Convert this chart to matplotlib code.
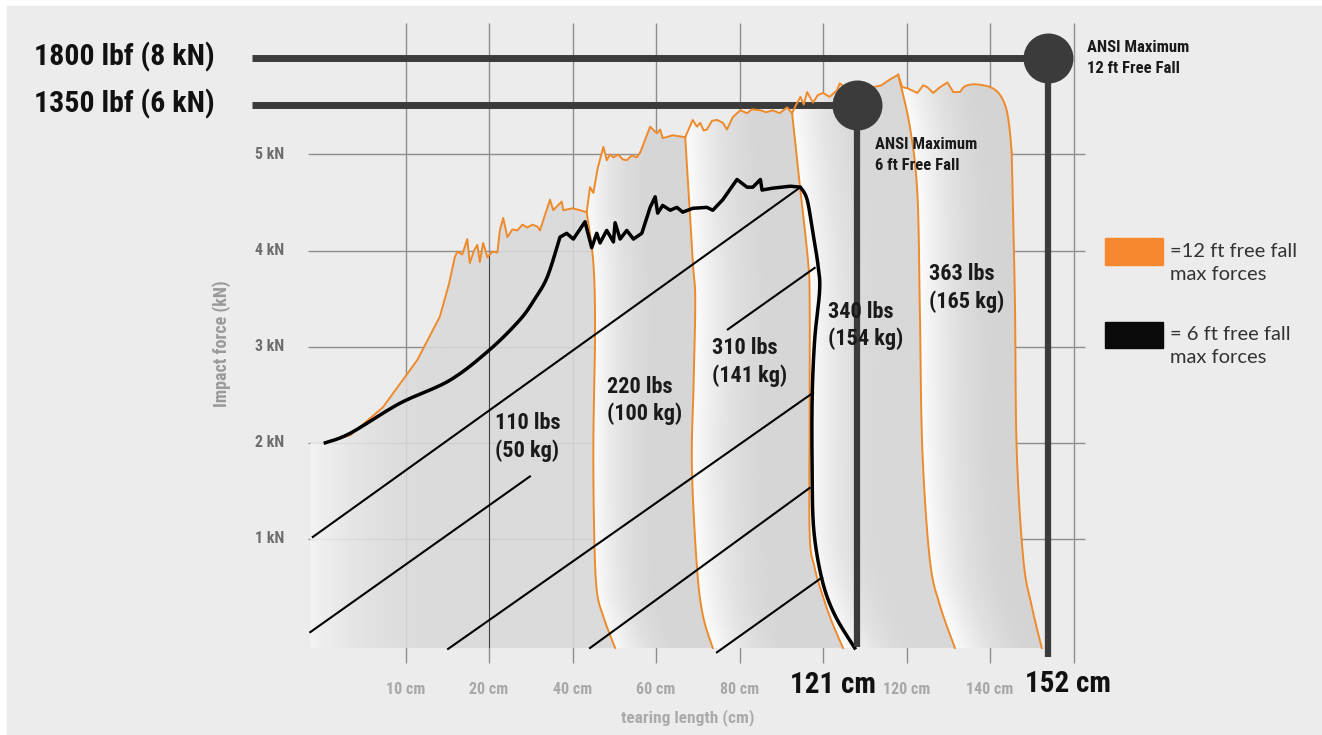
import numpy as np
import matplotlib

matplotlib.use("Agg")
import matplotlib.pyplot as plt
from matplotlib.colors import to_rgb
from matplotlib.patches import Polygon, Rectangle

# x = position on the tearing-length grid (1 = 10 cm ... 8 = 140 cm), y = impact force (kN)
GRID_X = [1, 2, 3, 4, 5, 6, 7, 8, 9]
TICK_X = [1, 2, 3, 4, 5, 7, 8]
TICK_X_LABELS = ["10 cm", "20 cm", "40 cm", "60 cm", "80 cm", "120 cm", "140 cm"]
GRID_Y = [1, 2, 3, 4, 5]
TICK_Y_LABELS = ["1 kN", "2 kN", "3 kN", "4 kN", "5 kN"]

# 12 ft free fall (orange): top of each load curve, then the drop at its end
top_110 = [(0.04, 2.00), (0.34, 2.08), (0.73, 2.37), (1.14, 2.86), (1.41, 3.31), (1.52, 3.65),
           (1.59, 3.93), (1.62, 3.99), (1.68, 3.96), (1.74, 4.12), (1.77, 3.87), (1.82, 4.00),
           (1.86, 4.06), (1.89, 3.88), (1.93, 4.08), (1.98, 3.93), (2.04, 3.99), (2.10, 3.98),
           (2.13, 4.21), (2.17, 4.34), (2.22, 4.14), (2.28, 4.22), (2.34, 4.21), (2.40, 4.27),
           (2.46, 4.24), (2.52, 4.27), (2.58, 4.25), (2.61, 4.21), (2.73, 4.53), (2.77, 4.42),
           (2.87, 4.51), (2.89, 4.42), (3.00, 4.44), (3.09, 4.42), (3.17, 4.40)]
drop_110 = [(3.17, 4.40), (3.25, 3.87), (3.27, 3.17), (3.25, 2.00), (3.26, 1.06), (3.29, 0.47),
            (3.37, 0.19), (3.51, -0.135)]
top_220 = [(3.17, 4.40), (3.21, 4.66), (3.25, 4.60), (3.30, 4.85), (3.37, 5.08), (3.41, 4.94),
           (3.45, 5.00), (3.49, 4.97), (3.55, 5.00), (3.60, 4.95), (3.65, 4.94), (3.71, 4.99),
           (3.77, 4.97), (3.81, 5.02), (3.93, 5.29), (4.01, 5.22), (4.05, 5.26), (4.08, 5.17),
           (4.20, 5.20), (4.35, 5.18)]
drop_220 = [(4.35, 5.18), (4.44, 3.90), (4.47, 3.49), (4.45, 2.60), (4.43, 1.75), (4.49, 0.71),
            (4.56, 0.21), (4.68, -0.135)]
top_310 = [(4.35, 5.18), (4.37, 5.22), (4.44, 5.36), (4.49, 5.29), (4.53, 5.33), (4.57, 5.25),
           (4.61, 5.26), (4.67, 5.35), (4.73, 5.36), (4.80, 5.33), (4.85, 5.26), (4.92, 5.39),
           (5.01, 5.46), (5.09, 5.43), (5.15, 5.47), (5.25, 5.46), (5.32, 5.44), (5.40, 5.46),
           (5.48, 5.43), (5.57, 5.49), (5.63, 5.43)]
drop_310 = [(5.63, 5.43), (5.72, 4.70), (5.82, 3.90), (5.84, 3.49), (5.84, 2.30), (5.84, 1.06),
            (5.90, 0.70), (6.00, 0.40), (6.10, 0.15), (6.24, -0.135)]
top_340 = [(5.63, 5.43), (5.68, 5.52), (5.73, 5.60), (5.77, 5.52), (5.81, 5.65), (5.88, 5.54),
           (5.94, 5.62), (6.00, 5.64), (6.08, 5.60), (6.17, 5.67), (6.20, 5.74), (6.30, 5.68),
           (6.41, 5.70), (6.50, 5.66), (6.60, 5.70), (6.70, 5.72), (6.80, 5.78), (6.90, 5.83)]
drop_340 = [(6.90, 5.83), (7.04, 5.29), (7.13, 4.60), (7.16, 3.38), (7.19, 1.93), (7.28, 0.78),
            (7.40, 0.31), (7.58, -0.135)]
top_363 = [(6.90, 5.83), (6.95, 5.70), (7.01, 5.69), (7.13, 5.64), (7.20, 5.72), (7.25, 5.70),
           (7.32, 5.64), (7.40, 5.70), (7.49, 5.75), (7.56, 5.65), (7.64, 5.65), (7.70, 5.71),
           (7.80, 5.73), (7.92, 5.72), (8.03, 5.69), (8.12, 5.62), (8.19, 5.49), (8.23, 5.30),
           (8.26, 5.02)]
drop_363 = [(8.26, 5.02), (8.28, 4.25), (8.30, 3.38), (8.32, 1.92), (8.40, 0.78), (8.50, 0.30),
            (8.62, -0.135)]
start_edge = [(-0.14, 2.00), (-0.14, -0.135)]

# 6 ft free fall (black): smooth rise, jagged plateau, smooth right edge
rise_6ft = [(0.04, 2.00), (0.34, 2.10), (0.93, 2.41), (1.53, 2.65), (2.01, 2.97), (2.37, 3.28),
            (2.55, 3.50), (2.70, 3.73), (2.85, 4.14)]
plateau_6ft = [(2.85, 4.14), (2.93, 4.18), (3.01, 4.12), (3.15, 4.30), (3.23, 4.03), (3.29, 4.18),
               (3.33, 4.08), (3.41, 4.21), (3.49, 4.09), (3.51, 4.29), (3.57, 4.12), (3.65, 4.21),
               (3.73, 4.12), (3.83, 4.18), (3.93, 4.45), (3.99, 4.56), (4.02, 4.39), (4.08, 4.47),
               (4.17, 4.42), (4.25, 4.45), (4.32, 4.40), (4.44, 4.44), (4.61, 4.45), (4.68, 4.42),
               (4.80, 4.53), (4.97, 4.74), (5.09, 4.66), (5.16, 4.66), (5.25, 4.74), (5.27, 4.63),
               (5.40, 4.65), (5.61, 4.67), (5.73, 4.66)]
edge_6ft = [(5.73, 4.66), (5.81, 4.53), (5.88, 4.18), (5.94, 3.85), (5.96, 3.59), (5.90, 3.07),
            (5.87, 2.45), (5.87, 1.72), (5.89, 1.09), (5.99, 0.57), (6.14, 0.21), (6.38, -0.135)]

# diagonal strap lines
straps = [((-0.11, 1.02), (5.73, 4.66)), ((-0.14, 0.03), (2.49, 1.65)), ((4.86, 3.18), (5.90, 3.82)),
          ((1.51, -0.145), (5.88, 2.52)), ((3.21, -0.135), (5.84, 1.53)), ((4.73, -0.18), (5.99, 0.60))]

MASS_LABELS = ["110 lbs\n(50 kg)", "220 lbs\n(100 kg)", "310 lbs\n(141 kg)", "340 lbs\n(154 kg)", "363 lbs\n(165 kg)"]
MASS_LABEL_X = [2.07, 3.41, 4.67, 6.06, 7.27]
MASS_LABEL_Y = [2.06, 2.44, 2.84, 3.22, 3.61]

REF_LABELS = ["1800 lbf (8 kN)", "1350 lbf (6 kN)"]
REF_FORCE = [6.00, 5.51]
REF_LENGTH = [8.70, 6.41]
REF_LENGTH_LABELS = ["152 cm", "121 cm"]
ANSI_LABELS = ["ANSI Maximum\n12 ft Free Fall", "ANSI Maximum\n6 ft Free Fall"]

ORANGE = "#ef8a2b"
DARK = "#3b3b3b"
NARROW = dict(family=["Liberation Sans Narrow", "Roboto Condensed", "DejaVu Sans"],
              fontstretch="condensed", fontweight="bold")
LEGEND_FONT = ["Lato", "DejaVu Sans"]


def smooth(points, n=12):
    # Catmull-Rom densification so hand-read curves don't look like polylines
    p = np.array(points, dtype=float)
    p = np.vstack([p[0], p, p[-1]])
    out = []
    for i in range(1, len(p) - 2):
        p0, p1, p2, p3 = p[i - 1], p[i], p[i + 1], p[i + 2]
        for t in np.linspace(0, 1, n, endpoint=False):
            out.append(0.5 * ((2 * p1) + (-p0 + p2) * t + (2 * p0 - 5 * p1 + 4 * p2 - p3) * t ** 2
                              + (-p0 + 3 * p1 - 3 * p2 + p3) * t ** 3))
    out.append(p[-2])
    return np.array(out)


def shade(ax, left, top, right, light, dark, fade, alpha=1.0):
    left = np.asarray(left)
    verts = np.vstack([left[::-1], np.asarray(top), np.asarray(right)])
    patch = Polygon(verts, closed=True, facecolor="none", edgecolor="none")
    ax.add_patch(patch)
    u0, k0 = verts.min(axis=0)
    u1, k1 = verts.max(axis=0)
    uu = np.linspace(u0, u1, 500)
    kk = np.linspace(k0, k1, 300)
    order = np.argsort(left[:, 1])
    xl = np.interp(kk, left[order, 1], left[order, 0])
    t = np.clip((uu[None, :] - xl[:, None]) / fade, 0, 1)
    t = 1 - (1 - t) ** 2
    c0 = np.array(to_rgb(light))
    c1 = np.array(to_rgb(dark))
    rgb = c0 + (c1 - c0) * t[..., None]
    rgba = np.dstack([rgb, np.full(t.shape, alpha)])
    im = ax.imshow(rgba, extent=(u0, u1, k0, k1), origin="lower", aspect="auto",
                   interpolation="bilinear", zorder=2)
    im.set_clip_path(patch)
    return patch


drops = [smooth(d) for d in [drop_110, drop_220, drop_310, drop_340, drop_363]]
start = np.array(start_edge)
top_363_line = np.vstack([np.array(top_363[:11]), smooth(top_363[10:])])

fig = plt.figure(figsize=(13.22, 7.35), dpi=100, facecolor="white")
ax = fig.add_axes([0, 0, 1, 1])
ax.set_facecolor("none")
ax.axis("off")
ax.add_patch(Rectangle((7 / 1322, 0), 1, 729 / 735, transform=ax.transAxes,
                       color="#ececec", zorder=0))

# grid
ax.vlines(GRID_X, -0.29, 6.37, color="#8e8e8e", lw=1.0, zorder=1)
ax.hlines(GRID_Y, -0.17, 9.14, color="#8e8e8e", lw=1.0, zorder=1)

# shaded load regions
p110 = shade(ax, start, top_110, drops[0], "#f4f4f4", "#d9d9d9", 1.6, alpha=0.88)
shade(ax, drops[0], top_220, drops[1], "#fbfbfb", "#d6d6d6", 0.8)
shade(ax, drops[1], top_310, drops[2], "#fdfdfd", "#d6d6d6", 1.0)
shade(ax, drops[2], top_340, drops[3], "#fdfdfd", "#d8d8d8", 0.9)
shade(ax, drops[3], top_363_line, drops[4], "#fdfdfd", "#d4d4d4", 1.0)

dark_grid = ax.vlines([2], -0.2, 5, color="#444444", lw=0.8, zorder=2.5)
dark_grid.set_clip_path(p110)

# reference lines (ANSI maxima)
for force, length in zip(REF_FORCE, REF_LENGTH):
    ax.plot([-0.84, length], [force, force], color=DARK, lw=5, solid_capstyle="butt", zorder=2.8)

# orange 12 ft curves
tops = [np.array(top_110), np.array(top_220), np.array(top_310), np.array(top_340), top_363_line]
for seg in tops + drops:
    ax.plot(seg[:, 0], seg[:, 1], color=ORANGE, lw=1.4, zorder=3, solid_joinstyle="round")

for (u0, k0), (u1, k1) in straps:
    ax.plot([u0, u1], [k0, k1], color="black", lw=1.5, zorder=3.5)

black = np.vstack([smooth(rise_6ft), np.array(plateau_6ft), smooth(edge_6ft)])
ax.plot(black[:, 0], black[:, 1], color="black", lw=2.5, zorder=4, solid_joinstyle="round")

# stems and circles
for force, length, bottom in zip(REF_FORCE, REF_LENGTH, [-0.23, -0.125]):
    ax.plot([length, length], [bottom, force], color=DARK, lw=4.5, solid_capstyle="butt", zorder=5)
ax.scatter(REF_LENGTH, REF_FORCE, s=1296, color=DARK, zorder=5.5, linewidths=0)

# texts
for label, force in zip(REF_LABELS, REF_FORCE):
    ax.text(-1.29, force + 0.02, label, ha="right", va="center", fontsize=21.5,
            color="#111111", zorder=6, **NARROW)
ax.text(REF_LENGTH[0] + 0.46, REF_FORCE[0], ANSI_LABELS[0], ha="left", va="center",
        fontsize=12, color="#1a1a1a", linespacing=1.5, zorder=6, **NARROW)
ax.text(REF_LENGTH[1] + 0.21, REF_FORCE[1] - 0.52, ANSI_LABELS[1], ha="left", va="center",
        fontsize=12, color="#1a1a1a", linespacing=1.5, zorder=6, **NARROW)

for label, x, y in zip(MASS_LABELS, MASS_LABEL_X, MASS_LABEL_Y):
    ax.text(x, y, label, ha="left", va="center", fontsize=16, color="#1a1a1a",
            linespacing=1.3, zorder=6, **NARROW)

for y, label in zip(GRID_Y, TICK_Y_LABELS):
    ax.text(-0.45, y, label, ha="right", va="center", fontsize=11.5, color="#6e6e6e",
            zorder=6, **NARROW)
ax.text(-1.20, 3.03, "Impact force (kN)", rotation=90, ha="center", va="center", fontsize=13,
        color="#9a9a9a", zorder=6, **NARROW)

for x, label in zip(TICK_X, TICK_X_LABELS):
    ax.text(x, -0.57, label, ha="center", va="center", fontsize=11.5, color="#a8a8a8",
            zorder=6, **NARROW)
ax.text(4.38, -0.86, "tearing length (cm)", ha="center", va="center", fontsize=12.5,
        color="#ababab", zorder=6, **NARROW)

ax.text(REF_LENGTH[1] - 0.29, -0.52, REF_LENGTH_LABELS[1], ha="center", va="center", fontsize=21,
        color="#111111", zorder=6, **NARROW)
ax.text(REF_LENGTH[0] + 0.23, -0.51, REF_LENGTH_LABELS[0], ha="center", va="center", fontsize=21,
        color="#111111", zorder=6, **NARROW)

# legend
ax.add_patch(Rectangle((9.377, 3.85), 0.695, 0.281, color="#f7882f", zorder=6))
ax.add_patch(Rectangle((9.377, 2.986), 0.695, 0.271, color="#0a0a0a", zorder=6))
ax.text(10.155, 3.87, "=12 ft free fall\nmax forces", ha="left", va="center", fontsize=14.5,
        family=LEGEND_FONT, color="#333333", linespacing=1.45, zorder=6)
ax.text(10.155, 3.007, "= 6 ft free fall\nmax forces", ha="left", va="center", fontsize=14.5,
        family=LEGEND_FONT, color="#333333", linespacing=1.45, zorder=6)

ax.set_xlim(-322 / 83.5, 1000 / 83.5)
ax.set_ylim(-100 / 96.1, 635 / 96.1)

fig.savefig("out.png", dpi=100, facecolor="white")
